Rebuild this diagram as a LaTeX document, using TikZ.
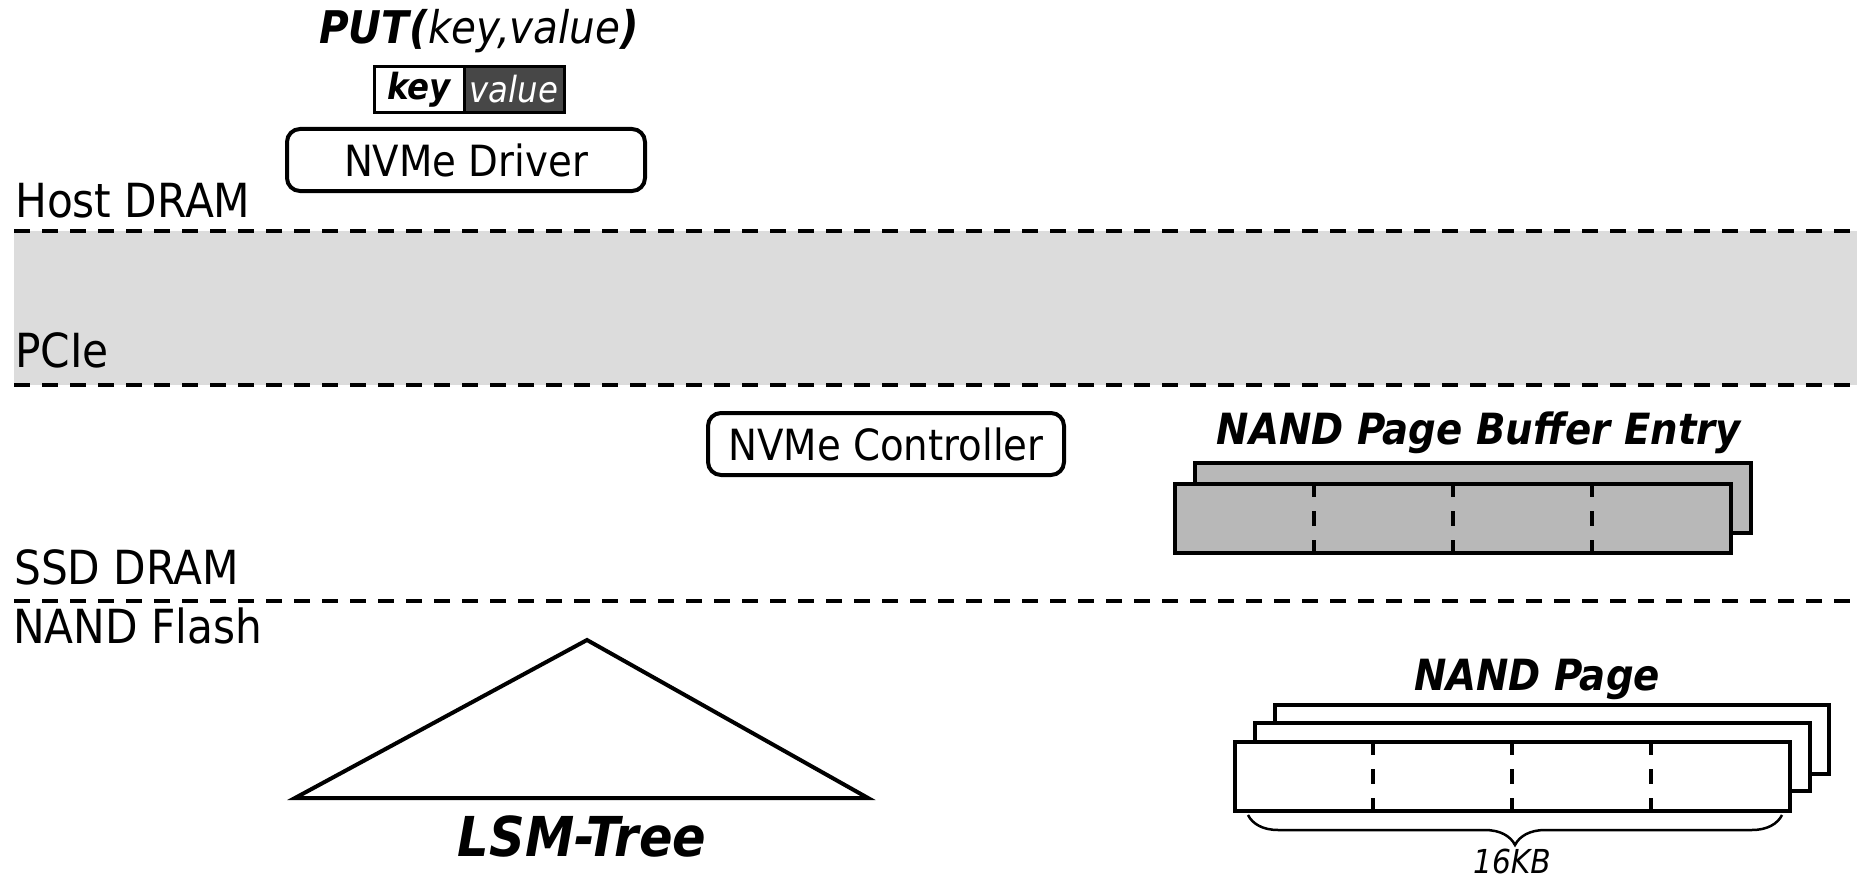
\documentclass[tikz,border=0pt]{standalone}
\usepackage{fontspec}
\setmainfont{DejaVu Sans Condensed}
\usetikzlibrary{decorations.pathreplacing}
\newcommand\fsz[1]{\fontsize{#1}{#1}\selectfont}
\definecolor{bandgray}{HTML}{DCDCDC}
\definecolor{bufgray}{HTML}{B8B8B8}
\definecolor{valgray}{HTML}{474747}
\tikzset{
  sepline/.style={line width=4pt, dash pattern=on 16pt off 12pt},
  layerlabel/.style={anchor=base west, inner sep=0pt, font=\fsz{47}},
  swbox/.style={draw, line width=4pt, rounded corners=13pt, inner sep=0pt, font=\fsz{43}},
  title/.style={anchor=base, inner sep=0pt, font=\fsz{43}\bfseries\itshape},
  cellbox/.style={draw, line width=4pt},
  divider/.style={line width=4pt, dash pattern=on 15pt off 14pt},
}
\begin{document}
\begin{tikzpicture}[x=1pt,y=-1pt]
\useasboundingbox (0,0) rectangle (1857,880);
% PCIe band
\fill[bandgray] (14,231) rectangle (1857,385);
\draw[sepline] (14,231) -- (1857,231);
\draw[sepline] (14,385) -- (1857,385);
\draw[sepline] (14,601) -- (1857,601);
% layer labels
\node[layerlabel] (host) at (15,217) {Host DRAM};
\node[layerlabel] (pcie) at (15,367) {PCIe};
\node[layerlabel] (ssd) at (14,584) {SSD DRAM};
\node[layerlabel] (flash) at (13,643) {NAND Flash};
% PUT
\node[anchor=base, inner sep=0pt, font=\fsz{45}] (put) at (479,44)
  {\textbf{\textit{PUT(}}\textit{key,value}\textbf{\textit{)}}};
\node[draw, line width=3pt, fill=white, minimum width=90pt, minimum height=46pt, inner sep=0pt,
  font=\fsz{36}\bfseries\itshape] (key) at (419,89.5) {key};
\node[draw, line width=3pt, fill=valgray, text=white, minimum width=100pt, minimum height=46pt, inner sep=0pt,
  font=\fsz{36}\itshape] (value) at (514,89.5) {value};
% software boxes
\node[swbox, minimum width=358pt, minimum height=62pt] (driver) at (466,160) {NVMe Driver};
\node[swbox, minimum width=356pt, minimum height=62pt] (ctrl) at (886,444) {NVMe Controller};
% NAND page buffer entry
\node[title] (buftitle) at (1479,444) {NAND Page Buffer Entry};
\draw[cellbox, fill=bufgray] (1195,463) rectangle (1751,533);
\draw[cellbox, fill=bufgray] (1175,484) rectangle (1731,553);
\coordinate (b1t) at (1314,482); \coordinate (b1b) at (1314,555);
\coordinate (b2t) at (1453,482); \coordinate (b2b) at (1453,555);
\coordinate (b3t) at (1592,482); \coordinate (b3b) at (1592,555);
\draw[divider] (b1t) -- (b1b);
\draw[divider] (b2t) -- (b2b);
\draw[divider] (b3t) -- (b3b);
% NAND page
\node[title] (pagetitle) at (1537,690) {NAND Page};
\draw[cellbox, fill=white] (1275,705) rectangle (1829,774);
\draw[cellbox, fill=white] (1255,723) rectangle (1810,791);
\draw[cellbox, fill=white] (1235,742) rectangle (1790,811);
\coordinate (p1t) at (1373,740); \coordinate (p1b) at (1373,813);
\coordinate (p2t) at (1512,740); \coordinate (p2b) at (1512,813);
\coordinate (p3t) at (1651,740); \coordinate (p3b) at (1651,813);
\draw[divider] (p1t) -- (p1b);
\draw[divider] (p2t) -- (p2b);
\draw[divider] (p3t) -- (p3b);
\coordinate (brl) at (1248,815);
\coordinate (brr) at (1782,815);
\draw[line width=2.5pt, decorate, decoration={brace, mirror, amplitude=30pt}] (brl) -- (brr);
\node[anchor=base, inner sep=0pt, font=\fsz{33}\itshape] (size) at (1512,873) {16KB};
% LSM tree
\coordinate (tl) at (295,798);
\coordinate (tt) at (587,640);
\coordinate (tr) at (868,798);
\draw[line width=4pt] (tl) -- (tt) -- (tr) -- cycle;
\node[anchor=base, inner sep=0pt, font=\fsz{55}\bfseries\itshape] (lsm) at (582,856) {LSM-Tree};
\end{tikzpicture}
\end{document}
